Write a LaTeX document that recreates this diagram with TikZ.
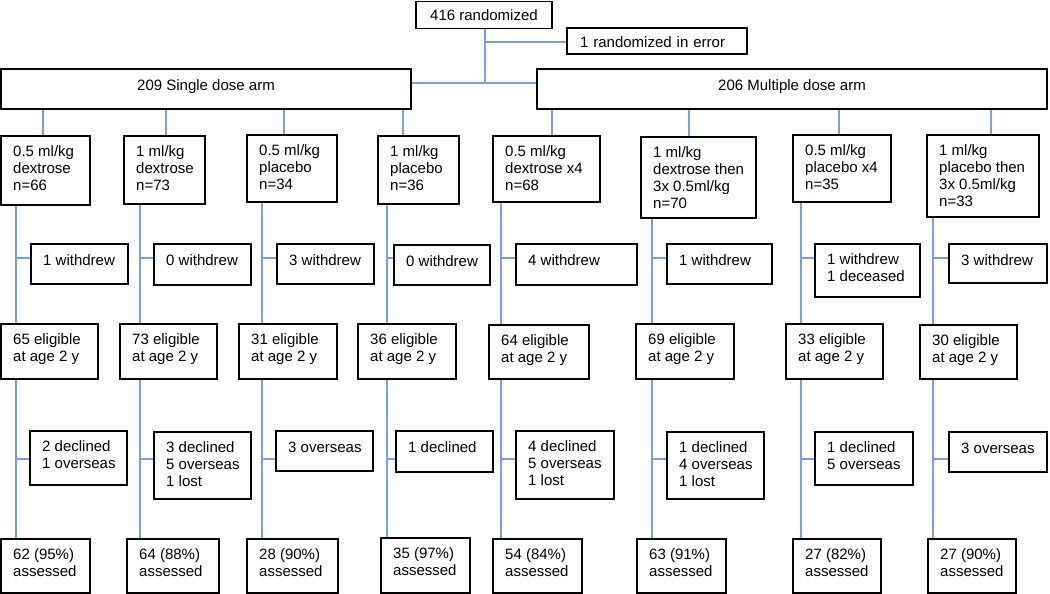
\documentclass[tikz,border=0pt]{standalone}
\usepackage{fontspec}
\setmainfont{Liberation Sans}
\usetikzlibrary{fit,backgrounds}
\definecolor{conn}{RGB}{122,158,222}
\tikzset{
  box/.style={draw=black, line width=1.6pt, inner sep=0pt, outer sep=0pt, fill=white},
  lab/.style={anchor=north west, xshift=12pt, yshift=-9pt, inner sep=0pt, align=left,
    font=\fontsize{15}{17}\selectfont, execute at begin node={\rule{0pt}{12pt}}},
  cbox/.style={draw=black, line width=1.6pt, anchor=north west, inner sep=0pt, outer sep=0pt,
    fill=white, font=\fontsize{15}{17}\selectfont},
  link/.style={draw=conn, line width=1.2pt},
}
\newcommand\bx[6]{\node[box, fit={(#2,#3) (#4,#5)}, label={[lab]north west:{#6}}] (#1) {};}
\begin{document}
\begin{tikzpicture}[x=1pt,y=-1pt]
\useasboundingbox (0,0) rectangle (1050,594);
% top
\node[cbox, minimum width=136pt, minimum height=27pt, text height=11pt, text depth=0pt] at (416,1.5) (r0) {416 randomized};
\node[cbox, minimum width=180pt, minimum height=26pt, text width=154pt, align=left, text height=13pt, text depth=0pt] at (567,28) (err) {1 randomized in error};
\node[cbox, minimum width=410pt, minimum height=40pt, text height=11pt, text depth=9pt] at (1,69) (arm1) {209 Single dose arm};
\node[cbox, minimum width=510pt, minimum height=40pt, text height=11pt, text depth=9pt] at (537,69) (arm2) {206 Multiple dose arm};
% dose groups
\bx{d1}{1}{136}{90}{205}{0.5 ml/kg\\dextrose\\n=66}
\bx{d2}{124}{136}{205}{204}{1 ml/kg\\dextrose\\n=73}
\bx{d3}{247}{135}{337}{202}{0.5 ml/kg\\placebo\\n=34}
\bx{d4}{378}{136}{459}{204}{1 ml/kg\\placebo\\n=36}
\bx{d5}{493}{136}{600}{202}{0.5 ml/kg\\dextrose x4\\n=68}
\bx{d6}{641}{137}{756}{218}{1 ml/kg\\dextrose then\\3x 0.5ml/kg\\n=70}
\bx{d7}{793}{135}{891}{202}{0.5 ml/kg\\placebo x4\\n=35}
\bx{d8}{927}{135}{1039}{217}{1 ml/kg\\placebo then\\3x 0.5ml/kg\\n=33}
% withdrew
\bx{w1}{31}{244}{128}{284}{1 withdrew}
\bx{w2}{154}{244}{251}{285}{0 withdrew}
\bx{w3}{277}{244}{374}{284}{3 withdrew}
\bx{w4}{394}{245}{490}{285}{0 withdrew}
\bx{w5}{516}{244}{637}{285}{4 withdrew}
\bx{w6}{667}{244}{772}{284}{1 withdrew}
\bx{w7}{815}{244}{920}{297}{1 withdrew\\1 deceased}
\bx{w8}{949}{244}{1047}{283}{3 withdrew}
% eligible
\bx{e1}{1}{324}{98}{379}{65 eligible\\at age 2 y}
\bx{e2}{120}{324}{217}{379}{73 eligible\\at age 2 y}
\bx{e3}{239}{324}{337}{379}{31 eligible\\at age 2 y}
\bx{e4}{358}{324}{456}{379}{36 eligible\\at age 2 y}
\bx{e5}{489}{325}{589}{379}{64 eligible\\at age 2 y}
\bx{e6}{636}{324}{734}{379}{69 eligible\\at age 2 y}
\bx{e7}{786}{324}{883}{379}{33 eligible\\at age 2 y}
\bx{e8}{920}{325}{1017}{379}{30 eligible\\at age 2 y}
% losses
\bx{c1}{30}{431}{127}{485}{2 declined\\1 overseas}
\bx{c2}{154}{432}{251}{499}{3 declined\\5 overseas\\1 lost}
\bx{c3}{276}{431}{373}{471}{3 overseas}
\bx{c4}{396}{431}{493}{472}{1 declined}
\bx{c5}{516}{431}{614}{499}{4 declined\\5 overseas\\1 lost}
\bx{c6}{667}{432}{764}{499}{1 declined\\4 overseas\\1 lost}
\bx{c7}{815}{432}{913}{485}{1 declined\\5 overseas}
\bx{c8}{949}{432}{1047}{472}{3 overseas}
% assessed
\bx{a1}{1}{539}{90}{593}{62 (95\%)\\assessed}
\bx{a2}{127}{539}{219}{593}{64 (88\%)\\assessed}
\bx{a3}{247}{539}{338}{593}{28 (90\%)\\assessed}
\bx{a4}{381}{538}{470}{593}{35 (97\%)\\assessed}
\bx{a5}{493}{539}{582}{593}{54 (84\%)\\assessed}
\bx{a6}{637}{539}{726}{593}{63 (91\%)\\assessed}
\bx{a7}{793}{539}{881}{593}{27 (82\%)\\assessed}
\bx{a8}{928}{539}{1016}{593}{27 (90\%)\\assessed}
% connectors
\begin{scope}[on background layer]
\coordinate (j0) at (485,83);
\coordinate (j1) at (485,42);
\draw[link] (r0.south -| j0) -- (j0);
\draw[link] (j1) -- (err.west |- j1);
\draw[link] (arm1.east |- j0) -- (arm2.west |- j0);
\foreach \i/\x/\a in {1/43/arm1,2/166/arm1,3/284/arm1,4/403/arm1,5/552/arm2,6/689/arm2,7/839/arm2,8/991/arm2}{
  \coordinate (t\i) at (\x,0);
  \draw[link] (\a.south -| t\i) -- (d\i.north -| t\i);
}
\foreach \i/\x in {1/16,2/140,3/262,4/387,5/501,6/652,7/801,8/933}{
  \coordinate (p\i) at (\x,258);
  \coordinate (q\i) at (\x,459);
  \draw[link] (d\i.south -| p\i) -- (e\i.north -| p\i);
  \draw[link] (p\i) -- (w\i.west |- p\i);
  \draw[link] (e\i.south -| q\i) -- (a\i.north -| q\i);
  \draw[link] (q\i) -- (c\i.west |- q\i);
}
\end{scope}
\end{tikzpicture}
\end{document}
